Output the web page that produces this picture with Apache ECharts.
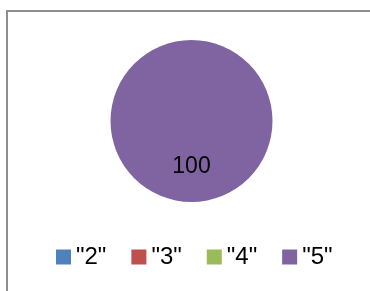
<!DOCTYPE html>
<html>
<head>
<meta charset="utf-8">
<script src="https://cdn.jsdelivr.net/npm/echarts@6/dist/echarts.min.js"></script>
<style>
  html, body { margin: 0; padding: 0; background: #fff; }
  #main { width: 370px; height: 291px; }
</style>
</head>
<body>
<div id="main"></div>
<script>
// chart data
const categories = ['"2"', '"3"', '"4"', '"5"'];
const values = [0, 0, 0, 100];
const colors = ['#4f81bd', '#c0504d', '#9bbb59', '#8064a2'];

const chart = echarts.init(document.getElementById('main'));

const option = {
  animation: false,
  color: colors,
  textStyle: { fontFamily: '"Liberation Sans", Arial, sans-serif' },
  graphic: [{
    type: 'rect',
    shape: { x: 7, y: 11, width: 400, height: 300 },
    style: { fill: null, stroke: '#8e8e8e', lineWidth: 2 },
    silent: true
  }],
  legend: {
    data: categories,
    left: 56,
    top: 245,
    padding: 0,
    itemWidth: 15,
    itemHeight: 15,
    itemGap: 25,
    icon: 'rect',
    textStyle: { fontSize: 24, color: '#000', fontFamily: '"Liberation Sans", Arial, sans-serif' }
  },
  series: [{
    type: 'pie',
    center: [191.5, 121],
    radius: [0, 81],
    startAngle: 90,
    avoidLabelOverlap: false,
    itemStyle: { borderWidth: 0 },
    label: {
      show: true,
      position: 'inside',
      fontSize: 23,
      color: '#000',
      offset: [0, 2],
      formatter: p => (p.value ? String(p.value) : '')
    },
    labelLine: { show: false },
    emphasis: { disabled: true },
    data: categories.map((name, i) => ({ name: name, value: values[i] }))
  }]
};

chart.setOption(option);
</script>
</body>
</html>
